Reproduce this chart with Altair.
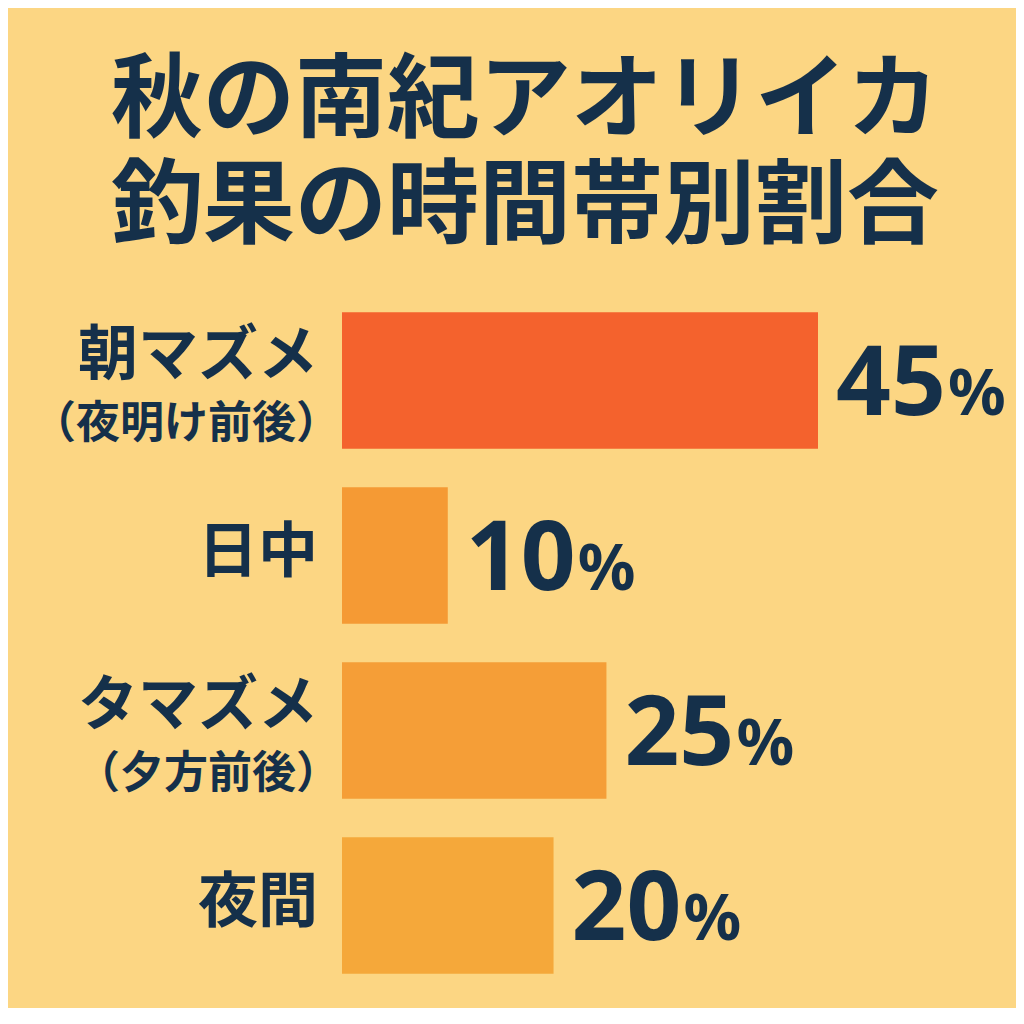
import altair as alt
import pandas as pd

categories = ["朝マズメ", "日中", "タマズメ", "夜間"]
sublabels = ["（夜明け前後）", "", "（夕方前後）", ""]
values = [45, 10, 25, 20]
value_labels = ["45", "10", "25", "20"]
bar_colors = ["#F4622D", "#F59A34", "#F59E37", "#F5A83A"]
title_lines = ["秋の南紀アオリイカ", "釣果の時間帯別割合"]

df = pd.DataFrame({
    "cat": categories,
    "sub": sublabels,
    "value": values,
    "vlabel": value_labels,
})

INK = "#15304A"
JP = "Noto Sans CJK JP"

y = alt.Y("cat:N", sort=categories, axis=None,
          scale=alt.Scale(paddingInner=0.22, paddingOuter=0.11))
x = alt.X("value:Q", axis=None, scale=alt.Scale(domain=[0, 45], nice=False, zero=True))

base = alt.Chart(df)

bars = base.mark_bar(cornerRadius=0).encode(
    x=x, y=y,
    color=alt.Color("cat:N", scale=alt.Scale(domain=categories, range=bar_colors), legend=None),
)

num = base.mark_text(align="left", baseline="alphabetic", dx=18, dy=34,
                     font="Noto Sans", fontWeight="bold", fontSize=96, color=INK).encode(
    x=x, y=y, text="vlabel:N")
pct = base.mark_text(align="left", baseline="alphabetic", dx=130, dy=34,
                     font="Noto Sans", fontWeight="bold", fontSize=64, color=INK).encode(
    x=x, y=y, text=alt.value("%"))

main_two = base.transform_filter("datum.sub != ''").mark_text(
    align="right", baseline="middle", dx=-24, dy=-24,
    font=JP, fontWeight="bold", fontSize=60, color=INK).encode(
    x=alt.datum(0), y=y, text="cat:N")
sub_two = base.transform_filter("datum.sub != ''").mark_text(
    align="right", baseline="middle", dx=-2, dy=44,
    font=JP, fontWeight="bold", fontSize=44, color=INK).encode(
    x=alt.datum(0), y=y, text="sub:N")
main_one = base.transform_filter("datum.sub == ''").mark_text(
    align="right", baseline="middle", dx=-24, dy=-2,
    font=JP, fontWeight="bold", fontSize=60, color=INK).encode(
    x=alt.datum(0), y=y, text="cat:N")

chart = alt.layer(bars, num, pct, main_two, sub_two, main_one).properties(
    width=476, height=700,
    autosize=alt.AutoSizeParams(type="none"),
    padding={"left": 334, "top": 285, "right": 198, "bottom": 15},
    background="#FCD683",
    title=alt.TitleParams(
        text=title_lines, font=JP, fontWeight="bold", fontSize=92, color=INK,
        anchor="middle", frame="group", dx=-55, offset=38, lineHeight=106,
    ),
).configure_view(stroke=None)

chart.save("out.html", embed_options={"renderer": "svg", "actions": False})
